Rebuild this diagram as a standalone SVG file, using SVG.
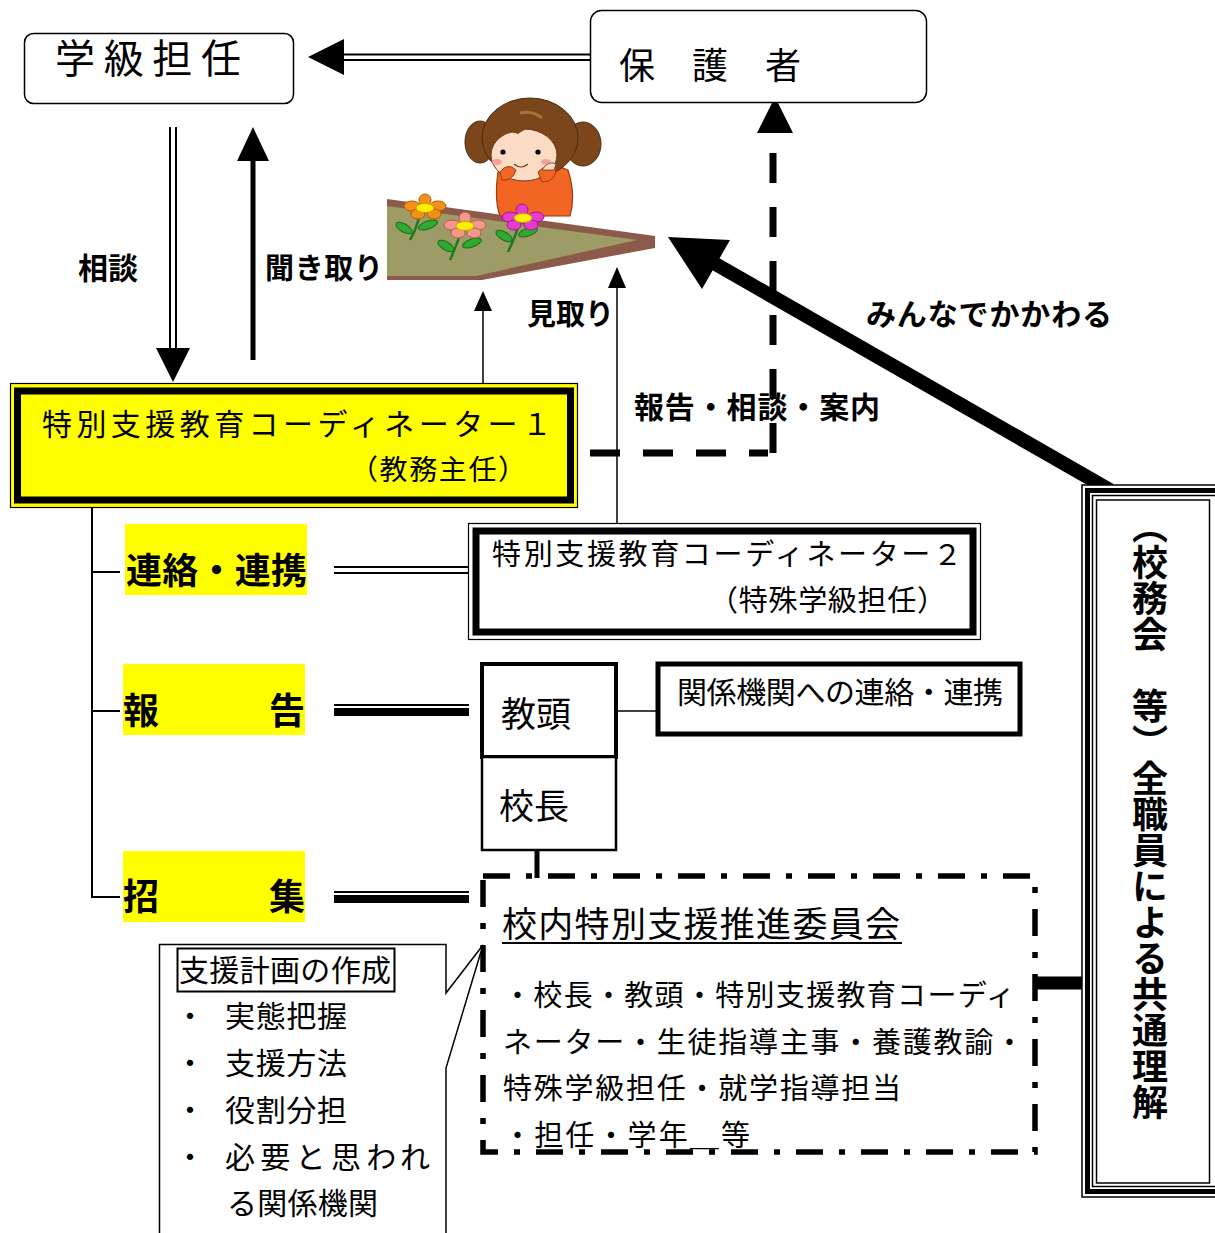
<svg xmlns="http://www.w3.org/2000/svg" width="1215" height="1233" viewBox="0 0 1215 1233">
  <style>
    text { font-family: "Noto Sans CJK JP", "Noto Sans CJK SC", sans-serif; fill: #000; }
    .lite { font-weight: 400; }
    .bold { font-weight: 700; }
    .ln { stroke: #000; fill: none; }
    .head { fill: #000; stroke: none; }
    .hl { fill: #ffff00; }
  </style>
  <rect x="0" y="0" width="1215" height="1233" fill="#fff"/>

  <!-- connectors -->
  <g id="connectors">
    <!-- parents -> class teacher (double line) -->
    <line class="ln" x1="590" y1="54.5" x2="340" y2="54.5" stroke-width="2"/>
    <line class="ln" x1="590" y1="60" x2="340" y2="60" stroke-width="2"/>
    <polygon class="head" points="308,57 344,39 344,75"/>
    <!-- 相談 : double line down -->
    <line class="ln" x1="170" y1="127" x2="170" y2="352" stroke-width="2"/>
    <line class="ln" x1="176" y1="127" x2="176" y2="352" stroke-width="2"/>
    <polygon class="head" points="173,382 156,348 190,348"/>
    <!-- 聞き取り : thick line up -->
    <line class="ln" x1="253" y1="360" x2="253" y2="158" stroke-width="5"/>
    <polygon class="head" points="253,127 237,161 269,161"/>
    <!-- 見取り arrows -->
    <line class="ln" x1="483" y1="383" x2="483" y2="308" stroke-width="1.5"/>
    <polygon class="head" points="483,291 474,311 492,311"/>
    <line class="ln" x1="617" y1="523" x2="617" y2="286" stroke-width="1.5"/>
    <polygon class="head" points="617,267 608,288 626,288"/>
    <!-- 報告・相談・案内 : dashed route to parents -->
    <line class="ln" x1="590" y1="453" x2="768" y2="453" stroke-width="7" stroke-dasharray="30 23"/>
    <line class="ln" x1="773" y1="453" x2="773" y2="128" stroke-width="7" stroke-dasharray="30 24"/>
    <polygon class="head" points="775,97 757,133 793,133"/>
    <!-- みんなでかかわる : heavy arrow -->
    <line class="ln" x1="1110" y1="490" x2="712" y2="262" stroke-width="14"/>
    <polygon class="head" points="668,237 730,240 702,289"/>
    <!-- tree from coordinator 1 -->
    <polyline class="ln" points="92,508 92,897 120,897" stroke-width="2"/>
    <line class="ln" x1="92" y1="572" x2="120" y2="572" stroke-width="2"/>
    <line class="ln" x1="92" y1="711" x2="120" y2="711" stroke-width="2"/>
    <!-- label -> target double lines -->
    <line class="ln" x1="334" y1="567" x2="469" y2="567" stroke-width="2"/>
    <line class="ln" x1="334" y1="573" x2="469" y2="573" stroke-width="2"/>
    <line class="ln" x1="334" y1="705" x2="469" y2="705" stroke-width="2"/>
    <line class="ln" x1="334" y1="712" x2="469" y2="712" stroke-width="8"/>
    <line class="ln" x1="334" y1="892" x2="469" y2="892" stroke-width="2"/>
    <line class="ln" x1="334" y1="899" x2="469" y2="899" stroke-width="8"/>
    <!-- vice principal -> outside agencies -->
    <line class="ln" x1="617" y1="711" x2="656" y2="711" stroke-width="1.5"/>
    <!-- principal -> committee -->
    <line class="ln" x1="537" y1="850" x2="537" y2="878" stroke-width="5"/>
    <!-- committee -> staff meeting -->
    <line class="ln" x1="1035" y1="983" x2="1083" y2="983" stroke-width="13"/>
  </g>

  <!-- class teacher -->
  <g id="node-class-teacher">
    <rect x="24.5" y="33.5" width="269" height="70" rx="9" fill="#fff" stroke="#000" stroke-width="1.5"/>
    <text class="lite" x="55" y="73" font-size="40" textLength="186" lengthAdjust="spacing">学級担任</text>
  </g>

  <!-- parents -->
  <g id="node-parents">
    <rect x="590.5" y="10.5" width="336" height="92" rx="11" fill="#fff" stroke="#000" stroke-width="1.5"/>
    <text class="lite" x="619" y="79" font-size="36" textLength="182" lengthAdjust="spacing">保　護　者</text>
  </g>

  <!-- child and flower bed -->
  <g id="illustration">
    <polygon points="387,199 655,236 655,248 482,280 387,280" fill="#8b5a4a"/>
    <polygon points="387,206 637,240 476,276 387,276" fill="#9d9b66"/>
    <!-- pigtails and hair -->
    <ellipse cx="480" cy="142" rx="15" ry="21" fill="#7b461c" stroke="#4a2a10" stroke-width="1"/>
    <ellipse cx="583" cy="144" rx="18" ry="22" fill="#7b461c" stroke="#4a2a10" stroke-width="1"/>
    <!-- body -->
    <path d="M498,172 Q494,200 500,216 L570,216 Q576,195 568,170 Q545,160 520,162 Q505,165 498,172 Z" fill="#f26522" stroke="#9b3a10" stroke-width="1.2"/>
    <path d="M512,168 Q520,180 540,178 Q556,176 560,166" fill="#f7c9a8" stroke="#9b3a10" stroke-width="1"/>
    <ellipse cx="530" cy="138" rx="48" ry="40" fill="#7b461c" stroke="#4a2a10" stroke-width="1"/>
    <!-- face -->
    <ellipse cx="524" cy="155" rx="33" ry="26" fill="#fcdcc4" stroke="#6a3a1a" stroke-width="1"/>
    <path d="M489,150 Q490,110 528,106 Q568,108 567,152 Q556,128 540,132 Q530,124 518,134 Q505,128 489,150 Z" fill="#7b461c"/>
    <path d="M520,113 Q532,110 542,118" stroke="#a8733c" stroke-width="3" fill="none"/>
    <circle cx="503" cy="152" r="2.6" fill="#000"/>
    <circle cx="538" cy="152" r="2.6" fill="#000"/>
    <ellipse cx="497" cy="162" rx="5" ry="3" fill="#f6a0a0"/>
    <ellipse cx="546" cy="162" rx="5" ry="3" fill="#f6a0a0"/>
    <path d="M514,164 Q521,170 528,164" stroke="#6a3a1a" stroke-width="1.2" fill="none"/>
    <!-- hands on cheeks -->
    <path d="M500,172 Q508,162 516,170 Q512,182 502,180 Z" fill="#f26522" stroke="#9b3a10" stroke-width="1"/>
    <path d="M538,172 Q548,162 556,168 Q556,182 542,182 Z" fill="#f26522" stroke="#9b3a10" stroke-width="1"/>
    <path d="M542,170 Q548,160 556,164 L554,170 Z" fill="#fcdcc4" stroke="#6a3a1a" stroke-width="0.8"/>
    <!-- flowers -->
    <g stroke="#1e7a1e" stroke-width="2.5" fill="none">
      <path d="M420,212 Q418,226 410,240"/>
      <path d="M462,228 Q458,242 450,260"/>
      <path d="M520,220 Q516,236 508,252"/>
    </g>
    <g fill="#2eaa2e" stroke="#1e6a1e" stroke-width="1">
      <ellipse cx="404" cy="228" rx="9" ry="4" transform="rotate(30 404 228)"/>
      <ellipse cx="428" cy="225" rx="10" ry="4" transform="rotate(-20 428 225)"/>
      <ellipse cx="446" cy="246" rx="9" ry="4" transform="rotate(30 446 246)"/>
      <ellipse cx="472" cy="243" rx="10" ry="4" transform="rotate(-20 472 243)"/>
      <ellipse cx="504" cy="236" rx="9" ry="4" transform="rotate(30 504 236)"/>
      <ellipse cx="528" cy="232" rx="10" ry="4" transform="rotate(-20 528 232)"/>
    </g>
    <g fill="#f39019" stroke="#b85a00" stroke-width="1">
      <ellipse cx="412" cy="206" rx="8" ry="5"/>
      <ellipse cx="438" cy="206" rx="8" ry="5"/>
      <ellipse cx="425" cy="200" rx="6" ry="6"/>
      <ellipse cx="418" cy="214" rx="7" ry="5"/>
      <ellipse cx="434" cy="214" rx="7" ry="5"/>
    </g>
    <ellipse cx="425" cy="208" rx="9" ry="4.5" fill="#ffee00" stroke="#b8a000" stroke-width="0.8"/>
    <g fill="#f4998a" stroke="#b85a50" stroke-width="1">
      <ellipse cx="452" cy="225" rx="8" ry="5"/>
      <ellipse cx="478" cy="225" rx="8" ry="5"/>
      <ellipse cx="465" cy="218" rx="6" ry="6"/>
      <ellipse cx="458" cy="233" rx="7" ry="5"/>
      <ellipse cx="474" cy="233" rx="7" ry="5"/>
    </g>
    <ellipse cx="465" cy="226" rx="9" ry="4.5" fill="#ffee00" stroke="#b8a000" stroke-width="0.8"/>
    <g fill="#e83ad0" stroke="#9a1a8a" stroke-width="1">
      <ellipse cx="510" cy="217" rx="8" ry="5"/>
      <ellipse cx="536" cy="217" rx="8" ry="5"/>
      <ellipse cx="522" cy="210" rx="6" ry="6"/>
      <ellipse cx="514" cy="225" rx="7" ry="5"/>
      <ellipse cx="531" cy="225" rx="7" ry="5"/>
    </g>
    <ellipse cx="523" cy="218" rx="9" ry="4.5" fill="#ffee00" stroke="#b8a000" stroke-width="0.8"/>
  </g>

  <!-- connector labels -->
  <g id="labels">
    <text class="bold" x="78" y="279" font-size="30" textLength="60" lengthAdjust="spacing">相談</text>
    <text class="bold" x="265" y="279" font-size="29" textLength="118" lengthAdjust="spacing">聞き取り</text>
    <text class="bold" x="527" y="325" font-size="29" textLength="87" lengthAdjust="spacing">見取り</text>
    <text class="bold" x="866" y="325" font-size="30" textLength="246" lengthAdjust="spacing">みんなでかかわる</text>
    <text class="bold" x="634" y="418" font-size="30" textLength="246" lengthAdjust="spacing">報告・相談・案内</text>
  </g>

  <!-- coordinator 1 -->
  <g id="node-coordinator1">
    <rect x="10.5" y="383.5" width="567" height="124" fill="#ffff00" stroke="#000" stroke-width="1.2"/>
    <rect x="17.5" y="391" width="553" height="109" fill="#ffff00" stroke="#000" stroke-width="7"/>
    <text class="lite" x="42" y="435" font-size="30" textLength="510" lengthAdjust="spacing">特別支援教育コーディネーター１</text>
    <text class="lite" x="350" y="480" font-size="28" textLength="176" lengthAdjust="spacing">（教務主任）</text>
  </g>

  <!-- tree labels -->
  <g id="node-renraku">
    <rect class="hl" x="125" y="524" width="182" height="71"/>
    <text class="bold" x="126" y="584" font-size="36" textLength="181" lengthAdjust="spacing">連絡・連携</text>
  </g>
  <g id="node-houkoku">
    <rect class="hl" x="123" y="664" width="182" height="71"/>
    <text class="bold" x="123" y="724" font-size="36" textLength="182" lengthAdjust="spacing">報　　　告</text>
  </g>
  <g id="node-shoushuu">
    <rect class="hl" x="123" y="851" width="182" height="71"/>
    <text class="bold" x="123" y="910" font-size="36" textLength="182" lengthAdjust="spacing">招　　　集</text>
  </g>

  <!-- coordinator 2 -->
  <g id="node-coordinator2">
    <rect x="468.5" y="523.5" width="512" height="116" fill="#fff" stroke="#000" stroke-width="1.2"/>
    <rect x="476" y="531" width="497" height="101" fill="#fff" stroke="#000" stroke-width="7"/>
    <text class="lite" x="492" y="565" font-size="29" textLength="470" lengthAdjust="spacing">特別支援教育コーディネーター２</text>
    <text class="lite" x="709" y="611" font-size="29" textLength="237" lengthAdjust="spacing">（特殊学級担任）</text>
  </g>

  <!-- vice principal / principal -->
  <g id="node-vice-principal">
    <rect x="482" y="664" width="134" height="93" fill="#fff" stroke="#000" stroke-width="4"/>
    <text class="lite" x="501" y="727" font-size="35">教頭</text>
  </g>
  <g id="node-principal">
    <rect x="482" y="757" width="134" height="93" fill="#fff" stroke="#000" stroke-width="2.5"/>
    <text class="lite" x="499" y="819" font-size="35">校長</text>
  </g>

  <!-- outside agencies -->
  <g id="node-agencies">
    <rect x="658" y="664" width="362" height="70" fill="#fff" stroke="#000" stroke-width="5"/>
    <text class="lite" x="677" y="703" font-size="30" textLength="326" lengthAdjust="spacing">関係機関への連絡・連携</text>
  </g>

  <!-- school support committee -->
  <g id="node-committee">
    <rect x="483" y="876" width="552" height="276" fill="none" stroke="#000" stroke-width="5.5" stroke-dasharray="27 16 6 16"/>
    <text class="lite" x="502" y="937" font-size="35" textLength="398" lengthAdjust="spacing">校内特別支援推進委員会</text>
    <line class="ln" x1="502" y1="943" x2="902" y2="943" stroke-width="2"/>
    <text class="lite" x="503" y="1006" font-size="29" textLength="512" lengthAdjust="spacing">・校長・教頭・特別支援教育コーディ</text>
    <text class="lite" x="503" y="1053" font-size="29" textLength="521" lengthAdjust="spacing">ネーター・生徒指導主事・養護教諭・</text>
    <text class="lite" x="503" y="1099" font-size="29" textLength="398" lengthAdjust="spacing">特殊学級担任・就学指導担当</text>
    <text class="lite" x="503" y="1146" font-size="29" textLength="247" lengthAdjust="spacing">・担任・学年＿等</text>
  </g>

  <!-- support plan callout -->
  <g id="node-support-plan">
    <path d="M159.5,1240 V944.5 H446 V993 L483,945 L446,1068 V1240" fill="#fff" stroke="#000" stroke-width="1.5"/>
    <rect x="177.5" y="948.5" width="217" height="43" fill="#fff" stroke="#000" stroke-width="2"/>
    <text class="lite" x="179" y="981" font-size="30" textLength="212" lengthAdjust="spacing">支援計画の作成</text>
    <g class="lite" font-size="30">
      <text x="190" y="1027" text-anchor="middle">・</text>
      <text x="190" y="1074" text-anchor="middle">・</text>
      <text x="190" y="1121" text-anchor="middle">・</text>
      <text x="190" y="1168" text-anchor="middle">・</text>
    </g>
    <text class="lite" x="225" y="1027" font-size="30" textLength="122" lengthAdjust="spacing">実態把握</text>
    <text class="lite" x="225" y="1074" font-size="30" textLength="122" lengthAdjust="spacing">支援方法</text>
    <text class="lite" x="225" y="1121" font-size="30" textLength="122" lengthAdjust="spacing">役割分担</text>
    <text class="lite" x="225" y="1168" font-size="30" textLength="205" lengthAdjust="spacing">必要と思われ</text>
    <text class="lite" x="227" y="1214" font-size="30" textLength="151" lengthAdjust="spacing">る関係機関</text>
  </g>

  <!-- staff meeting: common understanding -->
  <g id="node-staff">
    <rect x="1082" y="485" width="160" height="712" fill="#fff" stroke="#000" stroke-width="1.5"/>
    <rect x="1087.5" y="490.5" width="150" height="701" fill="none" stroke="#000" stroke-width="5"/>
    <rect x="1092.5" y="495.5" width="130" height="691" fill="none" stroke="#000" stroke-width="1.5"/>
    <rect x="1096.5" y="500" width="113" height="683" fill="none" stroke="#000" stroke-width="1.5"/>
    <text class="bold" x="1150" y="508" font-size="36" style="writing-mode: vertical-rl;">（校務会　等）全職員による共通理解</text>
  </g>
</svg>
